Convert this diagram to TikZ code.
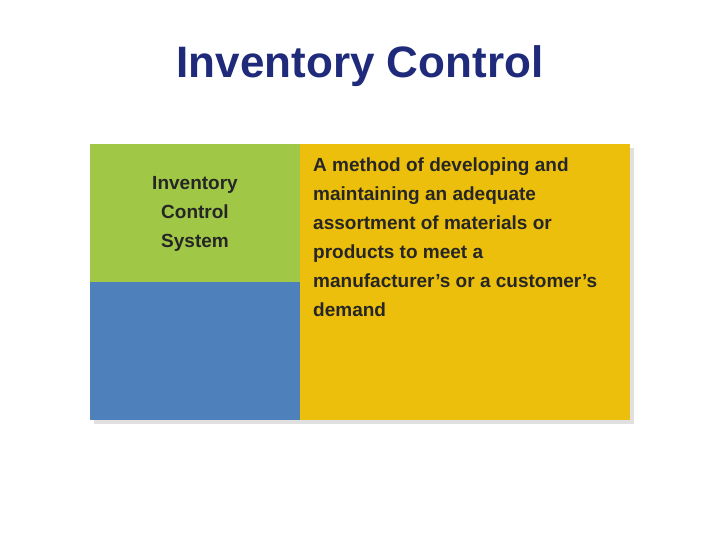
\documentclass[tikz,border=0pt]{standalone}
\usepackage{fontspec}
\setmainfont{Liberation Sans}
\definecolor{tblue}{HTML}{1F2A7A}
\definecolor{cgreen}{HTML}{A0C846}
\definecolor{cblue}{HTML}{4E80BC}
\definecolor{cyellow}{HTML}{ECBF0C}
\tikzset{cell/.style={draw=none,inner sep=0pt}, txt/.style={font=\bfseries\fontsize{19}{29}\selectfont, text=black!85}}
\begin{document}
\begin{tikzpicture}[x=1pt,y=-1pt]
\useasboundingbox[fill=white] (0,0) rectangle (720,540);
\fill[black!12] (94,148) rectangle (634,424);
\fill[cgreen] (90,144) rectangle (300,282);
\fill[cblue] (90,282) rectangle (300,420);
\fill[cyellow] (300,144) rectangle (630,420);
\node[font=\bfseries\fontsize{44}{50}\selectfont, text=tblue] (title) at (360,66) {Inventory Control};
\node[txt, align=center] (term) at (195,214) {Inventory\\Control\\System};
\node[txt, align=left, anchor=north west, inner sep=0pt] (def) at (313,158) {A method of developing and\\maintaining an adequate\\assortment of materials or\\products to meet a\\manufacturer’s or a customer’s\\demand};
\end{tikzpicture}
\end{document}
